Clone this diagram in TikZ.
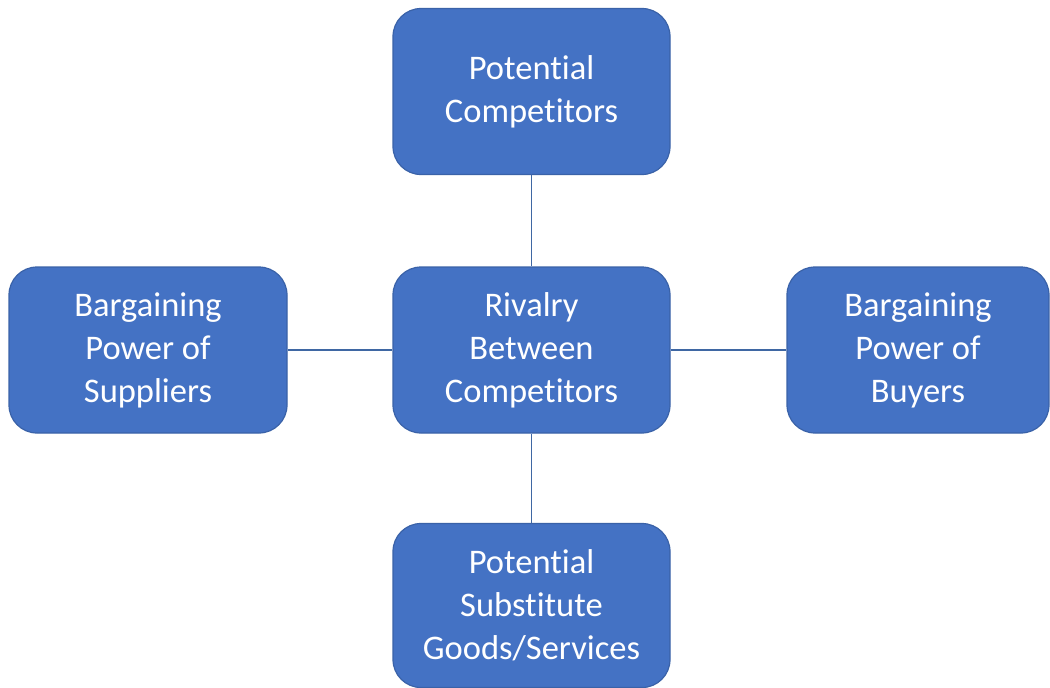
\documentclass[tikz,border=0pt]{standalone}
\usepackage{fontspec}
\setmainfont[Ligatures=NoCommon]{Carlito}
\definecolor{boxfill}{HTML}{4472C4}
\definecolor{boxline}{HTML}{3A62A8}
\definecolor{linkline}{HTML}{3F67A3}
\begin{document}
\begin{tikzpicture}[x=1pt,y=-1pt,
  force/.style={draw=boxline, line width=1.2pt, fill=boxfill, rounded corners=28pt,
    minimum width=277pt, minimum height=166pt, text=white, align=center,
    font=\fontsize{34.5}{43}\selectfont, inner sep=0pt},
  link/.style={draw=linkline, line width=1.8pt}]
\useasboundingbox (0,0) rectangle (1050,688);
\node[force] (top) at (531.5,91.5) {Potential\\Competitors};
\node[force] (mid) at (531.5,350) {Rivalry\\Between\\Competitors};
\node[force, minimum width=278pt] (left) at (148,350) {Bargaining\\Power of\\Suppliers};
\node[force, minimum width=262pt] (right) at (918,350) {Bargaining\\Power of\\Buyers};
\node[force, minimum height=164pt] (bot) at (531.5,605.5) {Potential\\Substitute\\Goods/Services};
\draw[link] (top) -- (mid);
\draw[link] (mid) -- (bot);
\draw[link] (left) -- (mid);
\draw[link] (mid) -- (right);
\end{tikzpicture}
\end{document}
